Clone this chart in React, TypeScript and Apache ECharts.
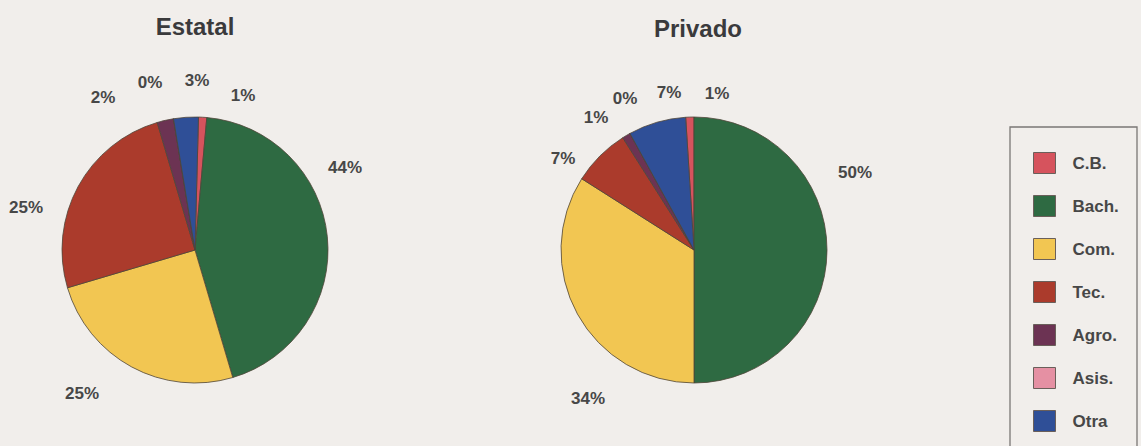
import React, { useEffect, useRef } from "react";
import * as echarts from "echarts";

const categories = ["C.B.", "Bach.", "Com.", "Tec.", "Agro.", "Asis.", "Otra"];
const estatalValues = [1, 44, 25, 25, 2, 0, 3];
const privadoValues = [1, 50, 34, 7, 1, 0, 7];
const titles = ["Estatal", "Privado"];

const colors = ["#D6535D", "#2E6A42", "#F2C652", "#AB3B2C", "#6C3353", "#E590A3", "#2F4F97"];

// label offsets (px) from each pie centre, per category
const estatalLabelOffsets = [
  [48, -155], [150, -83], [-113, 143], [-169, -43], [-92, -153], [-45, -168], [2, -170],
];
const privadoLabelOffsets = [
  [23, -157], [161, -78], [-106, 148], [-131, -92], [-98, -133], [-69, -152], [-25, -158],
];

const FONT = '"Liberation Sans", Arial, Helvetica, sans-serif';

export default function App() {
  const ref = useRef<HTMLDivElement>(null);
  useEffect(() => {
    document.body.style.margin = "0";
    if (!ref.current) return;
    const chart = echarts.init(ref.current, null, { renderer: "svg" });
    const pies = [
      { name: titles[0], values: estatalValues, center: [195, 250], start: 88.5, offsets: estatalLabelOffsets },
      { name: titles[1], values: privadoValues, center: [694, 250], start: 93.6, offsets: privadoLabelOffsets },
    ];
    chart.setOption({
      animation: false,
      backgroundColor: "#F1EEEB",
      color: colors,
      title: [
        { text: titles[0], left: 190, top: 9, textAlign: "center",
          textStyle: { fontFamily: FONT, fontSize: 24, fontWeight: "bold", color: "#3A3A3C" } },
        { text: titles[1], left: 693, top: 11, textAlign: "center",
          textStyle: { fontFamily: FONT, fontSize: 24, fontWeight: "bold", color: "#3A3A3C" } },
      ],
      legend: {
        orient: "vertical",
        left: 1033,
        top: 152,
        padding: 0,
        itemWidth: 22,
        itemHeight: 21,
        itemGap: 21,
        data: categories,
        icon: "rect",
        textStyle: { fontFamily: FONT, fontSize: 17, fontWeight: "bold", color: "#474747", padding: [12, 0, 0, 12] },
        itemStyle: { borderColor: "#6a5f5a", borderWidth: 1 },
      },
      graphic: [
        { type: "rect", shape: { x: 1010, y: 127, width: 127, height: 340 },
          style: { fill: "none", stroke: "#7a7775", lineWidth: 1.3 } },
      ],
      series: pies.map((p) => ({
        type: "pie",
        name: p.name,
        center: p.center,
        radius: 133,
        startAngle: p.start,
        clockwise: true,
        avoidLabelOverlap: false,
        stillShowZeroSum: true,
        minShowLabelAngle: 0,
        data: categories.map((c, i) => ({ name: c, value: p.values[i] })),
        itemStyle: { borderColor: "#4f4538", borderWidth: 0.8 },
        label: {
          show: true,
          position: "outside",
          formatter: "{c}%",
          fontFamily: FONT,
          fontSize: 17,
          fontWeight: "bold",
          color: "#474747",
        },
        labelLine: { show: false },
        labelLayout: (params: any) => {
          const off = p.offsets[params.dataIndex];
          return {
            x: p.center[0] + off[0],
            y: p.center[1] + off[1],
            align: "center",
            verticalAlign: "middle",
          };
        },
        emphasis: { disabled: true },
      })),
    });
    return () => chart.dispose();
  }, []);
  return <div ref={ref} style={{ width: 1141, height: 446 }} />;
}
